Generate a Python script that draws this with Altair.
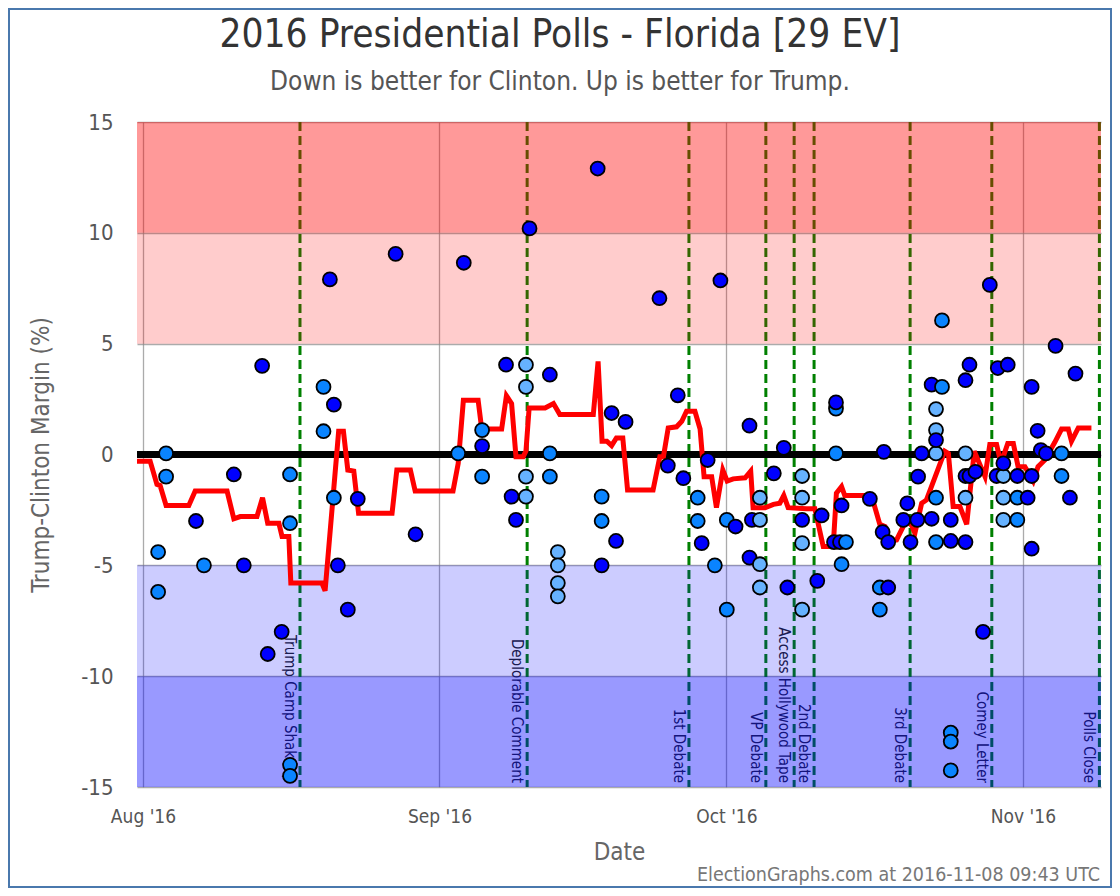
import altair as alt
import pandas as pd

FONT = "DejaVu Sans Condensed, DejaVu Sans"

# ---- poll results (date, Trump-Clinton margin, shade kind) ----
pt_date = [
    "2016-08-02T14:00", "2016-08-02T14:00", "2016-08-03T10:00", "2016-08-03T10:00",
    "2016-08-06T13:00", "2016-08-07T09:00", "2016-08-10T12:00", "2016-08-11T13:00",
    "2016-08-13T11:00", "2016-08-14T01:00", "2016-08-15T12:00", "2016-08-16T09:00",
    "2016-08-16T09:00", "2016-08-16T09:00", "2016-08-16T09:00", "2016-08-19T21:00",
    "2016-08-19T21:00", "2016-08-20T13:00", "2016-08-20T23:00", "2016-08-20T23:00",
    "2016-08-21T09:00", "2016-08-22T10:00", "2016-08-23T11:00", "2016-08-27T10:00",
    "2016-08-29T12:00",
    "2016-09-02T23:00", "2016-09-03T13:00", "2016-09-05T11:00", "2016-09-05T11:00",
    "2016-09-05T11:00", "2016-09-07T23:00", "2016-09-08T13:00", "2016-09-09T00:00",
    "2016-09-10T01:00", "2016-09-10T01:00", "2016-09-10T01:00", "2016-09-10T01:00",
    "2016-09-10T10:00", "2016-09-12T13:00", "2016-09-12T13:00", "2016-09-12T13:00",
    "2016-09-13T09:00", "2016-09-13T09:00", "2016-09-13T09:00", "2016-09-13T09:00",
    "2016-09-17T13:00", "2016-09-17T23:00", "2016-09-17T23:00", "2016-09-17T23:00",
    "2016-09-19T00:00", "2016-09-19T11:00", "2016-09-20T11:00", "2016-09-24T00:00",
    "2016-09-24T21:00", "2016-09-25T22:00", "2016-09-26T12:00", "2016-09-28T00:00",
    "2016-09-28T00:00", "2016-09-28T10:00", "2016-09-29T01:00", "2016-09-29T19:00",
    "2016-09-30T09:00",
    "2016-10-01T01:00", "2016-10-01T01:00", "2016-10-01T23:00", "2016-10-03T10:00",
    "2016-10-03T10:00", "2016-10-03T16:00", "2016-10-04T12:00", "2016-10-04T12:00",
    "2016-10-04T12:00", "2016-10-04T12:00", "2016-10-05T23:00", "2016-10-07T00:00",
    "2016-10-07T09:00", "2016-10-08T22:00", "2016-10-08T22:00", "2016-10-08T22:00",
    "2016-10-08T22:00", "2016-10-08T22:00", "2016-10-10T12:00", "2016-10-10T23:00",
    "2016-10-12T06:00", "2016-10-12T11:00", "2016-10-12T11:00", "2016-10-12T11:00",
    "2016-10-12T21:00", "2016-10-13T01:00", "2016-10-13T01:00", "2016-10-13T12:00",
    "2016-10-16T00:00", "2016-10-17T01:00", "2016-10-17T01:00", "2016-10-17T08:00",
    "2016-10-17T11:00", "2016-10-17T22:00", "2016-10-17T22:00", "2016-10-19T12:00",
    "2016-10-19T22:00", "2016-10-20T06:00", "2016-10-20T23:00", "2016-10-21T01:00",
    "2016-10-21T10:00", "2016-10-22T11:00", "2016-10-22T11:00", "2016-10-22T22:00",
    "2016-10-22T22:00", "2016-10-22T22:00", "2016-10-22T22:00", "2016-10-22T22:00",
    "2016-10-22T22:00", "2016-10-23T13:00", "2016-10-23T13:00", "2016-10-24T11:00",
    "2016-10-24T11:00", "2016-10-24T11:00", "2016-10-24T11:00", "2016-10-24T11:00",
    "2016-10-26T00:00", "2016-10-26T00:00", "2016-10-26T00:00", "2016-10-26T00:00",
    "2016-10-26T00:00", "2016-10-26T10:00", "2016-10-26T10:00", "2016-10-27T01:00",
    "2016-10-27T20:00", "2016-10-28T13:00", "2016-10-29T06:00", "2016-10-29T09:00",
    "2016-10-29T23:00", "2016-10-29T23:00", "2016-10-29T23:00", "2016-10-29T23:00",
    "2016-10-30T10:00", "2016-10-31T10:00", "2016-10-31T10:00", "2016-10-31T10:00",
    "2016-11-01T12:00", "2016-11-01T22:00", "2016-11-01T22:00", "2016-11-01T22:00",
    "2016-11-02T13:00", "2016-11-02T21:00", "2016-11-03T10:00", "2016-11-04T10:00",
    "2016-11-05T01:00", "2016-11-05T01:00", "2016-11-05T22:00", "2016-11-06T12:00",
]
pt_margin = [
    -4.4, -6.2, 0.05, -1.0,
    -3.0, -5.0, -0.9, -5.0,
    4.0, -9.0, -8.0, -0.9,
    -3.1, -14.0, -14.5, 3.05,
    1.05, 7.9, 2.25, -1.95,
    -5.0, -7.0, -2.0, 9.05,
    -3.6,
    0.05, 8.65, 1.1, 0.38,
    -1.0, 4.05, -1.9, -2.95,
    4.05, 3.05, -1.0, -1.9,
    10.2, 3.6, 0.05, -1.0,
    -4.4, -5.0, -5.8, -6.4,
    12.9, -1.9, -3.0, -5.0,
    1.87, -3.9, 1.47, 7.05,
    -0.5, 2.67, -1.07, -1.95,
    -3.0, -4.0, -0.25, -5.0,
    7.85,
    -2.95, -7.0, -3.25, -4.65,
    1.3, -2.95, -1.95, -2.95,
    -4.95, -6.0, -0.85, 0.3,
    -6.0, -0.97, -1.95, -2.95,
    -4.0, -7.0, -5.7, -2.75,
    -3.95, 2.07, 2.35, 0.05,
    -3.95, -2.3, -4.95, -3.95,
    -2.0, -6.0, -7.0, -3.5,
    0.12, -3.95, -6.0, -2.95,
    -2.2, -3.95, -2.95, -1.0,
    0.05, 3.15, -2.9, 0.05,
    1.1, 2.05, 0.65, -1.95,
    -3.95, 3.05, 6.05, -12.55,
    -12.95, -14.25, -2.95, -3.9,
    0.05, -1.95, -0.97, -3.95,
    3.35, -0.97, 4.05, -0.78,
    -8.0, 7.65, -0.97, 3.9,
    -0.97, -1.95, -2.95, -0.4,
    4.05, -0.97, -1.95, -2.95,
    -1.95, 3.05, -0.97, -4.25,
    1.07, 0.2, 0.05, 4.9,
    0.05, -0.97, -1.95, 3.65,
]
pt_kind = [
    "M", "M", "M", "M",
    "D", "M", "D", "D",
    "D", "D", "D", "M",
    "M", "M", "M", "M",
    "M", "D", "D", "M",
    "D", "D", "D", "D",
    "D",
    "M", "D", "M", "D",
    "M", "D", "D", "D",
    "L", "L", "L", "L",
    "D", "D", "M", "M",
    "L", "L", "L", "L",
    "D", "M", "M", "D",
    "D", "D", "D", "D",
    "D", "D", "D", "M",
    "M", "D", "D", "M",
    "D",
    "M", "M", "D", "D",
    "D", "D", "L", "L",
    "L", "L", "D", "D",
    "D", "L", "L", "D",
    "L", "L", "D", "D",
    "D", "M", "D", "M",
    "D", "D", "M", "M",
    "D", "M", "M", "D",
    "D", "D", "D", "D",
    "D", "D", "D", "D",
    "D", "D", "D", "L",
    "L", "L", "D", "M",
    "M", "M", "M", "M",
    "M", "M", "D", "D",
    "L", "L", "D", "D",
    "D", "D", "D", "D",
    "D", "D", "D", "D",
    "L", "L", "L", "D",
    "D", "D", "M", "M",
    "D", "D", "D", "D",
    "D", "D", "D", "D",
    "M", "M", "D", "D",
]

# ---- running average (red line) ----
avg_date = [
    "2016-07-31T09:00", "2016-08-01T18:00", "2016-08-02T11:00", "2016-08-02T19:00",
    "2016-08-03T10:00", "2016-08-05T19:00", "2016-08-06T11:00", "2016-08-09T19:00",
    "2016-08-10T12:00", "2016-08-11T04:00", "2016-08-12T22:00", "2016-08-13T12:00",
    "2016-08-14T01:00", "2016-08-15T05:00", "2016-08-15T13:00", "2016-08-16T06:00",
    "2016-08-16T11:00", "2016-08-19T17:00", "2016-08-20T01:00", "2016-08-21T11:00",
    "2016-08-21T23:00", "2016-08-22T10:00", "2016-08-23T01:00", "2016-08-23T13:00",
    "2016-08-27T01:00", "2016-08-27T13:00", "2016-08-28T23:00", "2016-08-29T11:00",
    "2016-09-02T10:00", "2016-09-02T23:00", "2016-09-03T12:00", "2016-09-05T01:00",
    "2016-09-05T10:00", "2016-09-07T12:00", "2016-09-08T00:00", "2016-09-08T13:00",
    "2016-09-09T00:00", "2016-09-09T18:00", "2016-09-10T01:00", "2016-09-10T09:00",
    "2016-09-12T01:00", "2016-09-12T22:00", "2016-09-13T14:00", "2016-09-17T02:00",
    "2016-09-17T14:00", "2016-09-18T00:00", "2016-09-18T12:00", "2016-09-19T00:00",
    "2016-09-19T12:00", "2016-09-20T04:00", "2016-09-20T16:00", "2016-09-23T08:00",
    "2016-09-24T01:00", "2016-09-24T10:00", "2016-09-24T22:00", "2016-09-25T19:00",
    "2016-09-26T08:00", "2016-09-26T20:00", "2016-09-27T17:00", "2016-09-28T06:00",
    "2016-09-28T16:00", "2016-09-29T11:00", "2016-09-29T23:00", "2016-09-30T15:00",
    "2016-10-01T02:00", "2016-10-01T17:00", "2016-10-02T23:00", "2016-10-03T13:00",
    "2016-10-03T19:00", "2016-10-05T01:00", "2016-10-05T22:00", "2016-10-06T14:00",
    "2016-10-07T00:00", "2016-10-07T11:00", "2016-10-09T09:00", "2016-10-10T06:00",
    "2016-10-11T03:00", "2016-10-12T04:00", "2016-10-12T12:00", "2016-10-13T01:00",
    "2016-10-13T09:00", "2016-10-16T04:00", "2016-10-17T01:00", "2016-10-17T14:00",
    "2016-10-17T22:00", "2016-10-18T19:00", "2016-10-19T20:00", "2016-10-20T09:00",
    "2016-10-20T17:00", "2016-10-21T10:00", "2016-10-21T22:00", "2016-10-23T20:00",
    "2016-10-24T05:00", "2016-10-24T17:00", "2016-10-25T10:00", "2016-10-26T03:00",
    "2016-10-26T22:00", "2016-10-28T01:00", "2016-10-28T13:00", "2016-10-29T06:00",
    "2016-10-29T17:00", "2016-10-30T10:00", "2016-10-31T00:00", "2016-10-31T12:00",
    "2016-11-01T05:00", "2016-11-02T02:00", "2016-11-02T14:00", "2016-11-03T07:00",
    "2016-11-04T08:00", "2016-11-05T01:00", "2016-11-05T18:00", "2016-11-06T02:00",
    "2016-11-06T19:00", "2016-11-08T04:00",
]
avg_margin = [
    -0.3, -0.3, -1.35, -1.4,
    -2.3, -2.3, -1.65, -1.65,
    -2.9, -2.8, -2.8, -1.95,
    -3.1, -3.1, -3.7, -3.7,
    -5.8, -5.8, -6.15, 1.05,
    1.05, -0.7, -0.75, -2.65,
    -2.65, -0.7, -0.7, -1.65,
    -1.65, -0.4, 2.45, 2.45,
    1.15, 1.15, 2.65, 2.3,
    -0.1, -0.1, 0.15, 2.1,
    2.1, 2.3, 1.8, 1.8,
    4.2, 0.6, 0.6, 0.4,
    0.75, 0.75, -1.6, -1.6,
    -0.1, -0.1, 1.2, 1.25,
    1.5, 1.95, 1.95, 1.15,
    -1.0, -1.0, -2.4, -0.7,
    -1.2, -1.1, -1.05, -0.75,
    -2.4, -2.4, -2.25, -2.2,
    -1.85, -2.4, -2.45, -2.45,
    -4.15, -4.15, -1.75, -1.45,
    -1.85, -1.85, -3.15, -3.25,
    -3.9, -3.85, -2.95, -3.2,
    -3.55, -2.2, -2.05, 0.15,
    0.05, -2.35, -2.35, -3.15,
    0.15, -1.0, 0.45, 0.45,
    -0.4, 0.5, 0.5, -0.55,
    -0.55, -1.2, -0.55, -0.25,
    0.55, 1.15, 1.15, 0.6,
    1.2, 1.2,
]

# ---- events ----
ev_date = ["2016-08-17T10:00", "2016-09-10T04:00", "2016-09-27T02:00",
           "2016-10-05T03:00", "2016-10-08T02:00", "2016-10-10T04:00",
           "2016-10-20T05:00", "2016-10-28T18:00", "2016-11-09T00:00"]
ev_label = ["Trump Camp Shakeup", "Deplorable Comment", "1st Debate",
            "VP Debate", "Access Hollywood Tape", "2nd Debate",
            "3rd Debate", "Comey Letter", "Polls Close"]

# ---- background bands ----
band_lo = [10, 5, -10, -15]
band_hi = [15, 10, -5, -10]
band_color = ["#ff0000", "#ff0000", "#0000ff", "#0000ff"]
band_alpha = [0.4, 0.2, 0.2, 0.4]

kind_names = ["D", "M", "L"]
kind_colors = ["#0000ff", "#0a84ff", "#66b2ff"]

title_text = "2016 Presidential Polls - Florida [29 EV]"
subtitle_text = "Down is better for Clinton. Up is better for Trump."
footer_text = "ElectionGraphs.com at 2016-11-08 09:43 UTC"

W, H = 964, 665

polls = pd.DataFrame({"date": pt_date, "margin": pt_margin, "kind": pt_kind})
avg = pd.DataFrame({"date": avg_date, "margin": avg_margin})
events = pd.DataFrame({"date": ev_date, "label": ev_label, "bottom": [-15] * len(ev_date)})
bands = pd.DataFrame({"lo": band_lo, "hi": band_hi, "color": band_color, "alpha": band_alpha})

xscale = alt.Scale(domain=[alt.DateTime(year=2016, month=7, date=31, hours=9),
                           alt.DateTime(year=2016, month=11, date=9, hours=4)])
yscale = alt.Scale(domain=[-15, 15], nice=False, zero=False)

xaxis = alt.Axis(
    title="Date", format="%b '%y",
    values=[alt.DateTime(year=2016, month=m, date=1) for m in [8, 9, 10, 11]],
    grid=True, ticks=False, domain=False, labelPadding=20, titlePadding=14,
    labelFontSize=19, titleFontSize=24,
)
yaxis = alt.Axis(
    title="Trump-Clinton Margin (%)", values=[-15, -10, -5, 0, 5, 10, 15],
    labelExpr="'' + datum.value", grid=True, ticks=False, domain=False,
    labelPadding=24, titlePadding=27, labelFontSize=22, titleFontSize=24,
)

X = alt.X("date:T", scale=xscale, axis=xaxis)
Y = alt.Y("margin:Q", scale=yscale, axis=yaxis)

ev_lines = alt.Chart(events).mark_rule(
    color="#008000", strokeWidth=3, strokeDash=[9, 5]
).encode(x=alt.X("date:T", scale=xscale, axis=xaxis))

ev_text = alt.Chart(events).mark_text(
    angle=90, align="right", baseline="top", dx=-4, dy=3,
    fontSize=15, color="#222222", font=FONT,
).encode(x=alt.X("date:T", scale=xscale, axis=xaxis),
         y=alt.Y("bottom:Q", scale=yscale, axis=yaxis), text="label:N")

band_layer = alt.Chart(bands).mark_rect().encode(
    x=alt.value(0), x2=alt.value(W),
    y=alt.Y("lo:Q", scale=yscale, axis=yaxis), y2="hi:Q",
    color=alt.Color("color:N", scale=None),
    opacity=alt.Opacity("alpha:Q", scale=None),
)

zero_line = alt.Chart(pd.DataFrame({"z": [0]})).mark_rule(
    color="black", strokeWidth=7
).encode(y=alt.Y("z:Q", scale=yscale, axis=yaxis))

avg_line = alt.Chart(avg).mark_line(
    color="#ff0000", strokeWidth=5, strokeJoin="miter"
).encode(x=X, y=Y)

dots = alt.Chart(polls).mark_point(
    shape="circle", filled=True, size=195, stroke="black", strokeWidth=1.8, opacity=1,
).encode(
    x=X, y=Y,
    fill=alt.Fill("kind:N", scale=alt.Scale(domain=kind_names, range=kind_colors), legend=None),
)

# chart-level texts (title, subtitle, footer) and outer frame
title_mark = alt.Chart(pd.DataFrame({"t": [title_text]})).mark_text(
    align="center", baseline="alphabetic", fontSize=38.5, color="#333333", font=FONT
).encode(text="t:N", x=alt.value(423), y=alt.value(-75))

subtitle_mark = alt.Chart(pd.DataFrame({"t": [subtitle_text]})).mark_text(
    align="center", baseline="alphabetic", fontSize=26, color="#555555", font=FONT
).encode(text="t:N", x=alt.value(423), y=alt.value(-32))

footer = alt.Chart(pd.DataFrame({"t": [footer_text]})).mark_text(
    align="right", baseline="alphabetic", fontSize=19.5, color="#777777", font=FONT
).encode(text="t:N", x=alt.value(W - 1), y=alt.value(H + 94))

frame = alt.Chart(pd.DataFrame({"f": [1]})).mark_rect(
    fillOpacity=0, stroke="#4a78ad", strokeWidth=2
).encode(x=alt.value(-128), x2=alt.value(W + 10), y=alt.value(-113), y2=alt.value(H + 100))

chart = alt.layer(
    ev_lines, ev_text, band_layer, zero_line, avg_line, dots,
    title_mark, subtitle_mark, footer, frame
).properties(
    width=W, height=H,
    padding={"left": 129, "top": 114, "right": 11, "bottom": 101},
    autosize=alt.AutoSizeParams(type="none"),
    background="white",
).configure_axis(
    labelFont=FONT, titleFont=FONT,
    labelColor="#555555", titleColor="#666666", titleFontWeight="normal",
    gridColor="#888888", gridOpacity=0.7, gridWidth=1.3,
).configure_view(stroke=None)

chart.save("out.html", embed_options={"renderer": "svg", "actions": False})
